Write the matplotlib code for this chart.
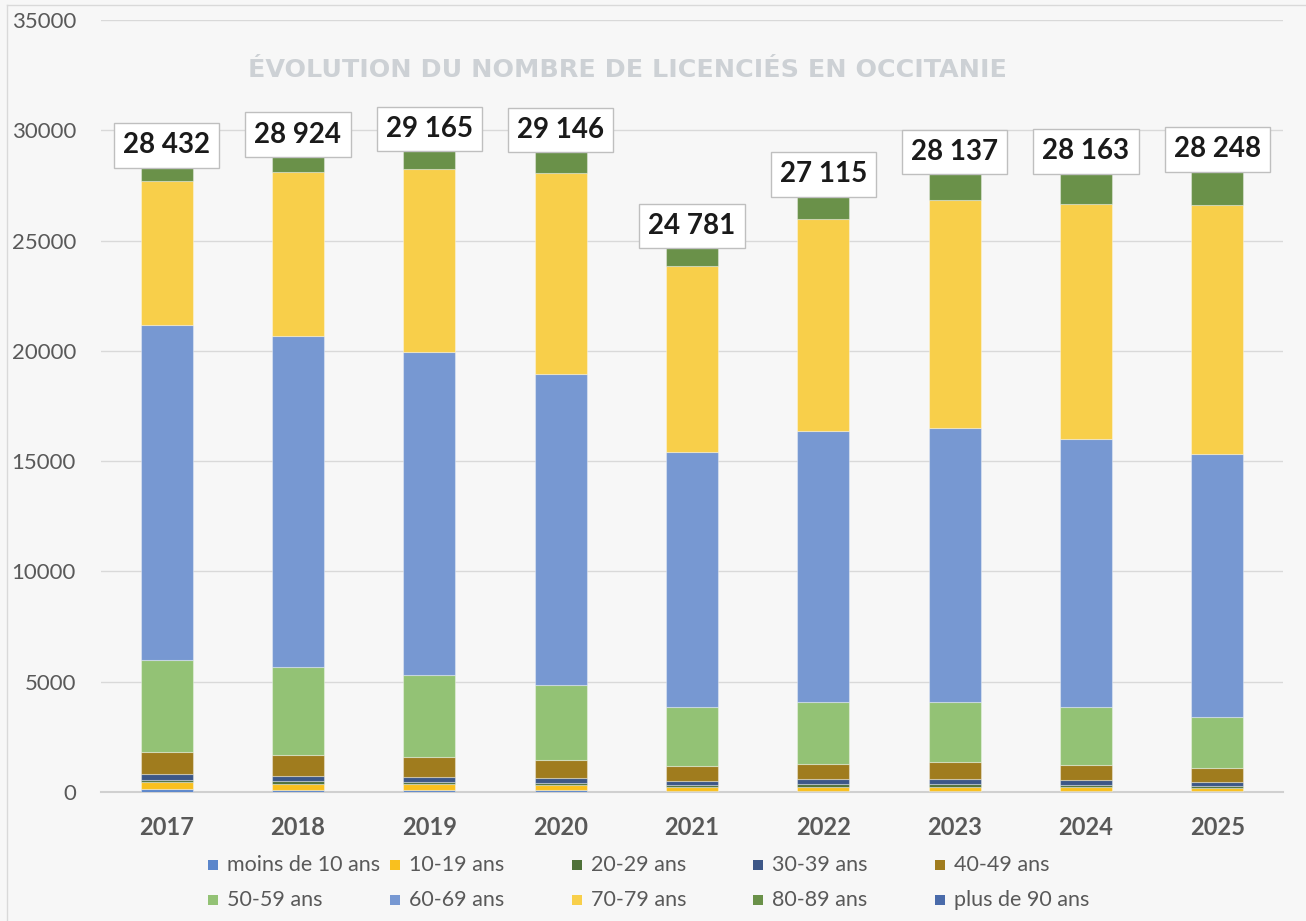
import matplotlib
matplotlib.use("Agg")
import matplotlib.pyplot as plt
from matplotlib.patches import Rectangle
from matplotlib.lines import Line2D
import numpy as np

years = ["2017", "2018", "2019", "2020", "2021", "2022", "2023", "2024", "2025"]
age_groups = ["moins de 10 ans", "10-19 ans", "20-29 ans", "30-39 ans", "40-49 ans",
              "50-59 ans", "60-69 ans", "70-79 ans", "80-89 ans", "plus de 90 ans"]

moins_10 = [136, 91, 91, 91, 45, 45, 59, 59, 45]
a10_19 = [317, 272, 272, 226, 182, 182, 168, 168, 136]
a20_29 = [91, 135, 77, 77, 90, 136, 149, 77, 91]
a30_39 = [272, 227, 240, 240, 181, 226, 213, 240, 181]
a40_49 = [996, 951, 920, 830, 694, 693, 756, 666, 621]
a50_59 = [4169, 3987, 3701, 3384, 2659, 2796, 2733, 2641, 2324]
a60_69 = [15179, 15012, 14649, 14123, 11586, 12293, 12429, 12174, 11948]
a70_79 = [6538, 7431, 8280, 9092, 8427, 9592, 10343, 10655, 11252]
a80_89 = [719, 798, 915, 1063, 902, 1137, 1272, 1468, 1635]
plus_90 = [15, 20, 20, 20, 15, 15, 15, 15, 15]

series = [moins_10, a10_19, a20_29, a30_39, a40_49, a50_59, a60_69, a70_79, a80_89, plus_90]
colors = ["#5B86CB", "#F9C01E", "#4F7139", "#3D5787", "#A07C1E",
          "#93C275", "#7798D2", "#F8CF4A", "#6A9149", "#4A6BAA"]

BG = "#F7F7F7"
GRAY = "#595959"

plt.rcParams['font.family'] = ['Lato', 'DejaVu Sans']

fig = plt.figure(figsize=(13.06, 9.21), dpi=100, facecolor=BG)
ax = fig.add_axes([101/1306, 1-792/921, (1283-101)/1306, (792-20)/921])
ax.set_facecolor(BG)

x = np.arange(len(years))
bottom = np.zeros(len(years))
for vals, col in zip(series, colors):
    ax.bar(x, vals, bottom=bottom, width=0.396, color=col,
           edgecolor=(1, 1, 1, 0.35), linewidth=0.8, zorder=3)
    bottom += np.array(vals)

totals = bottom
for xi, t in zip(x, totals):
    label = f"{int(t):,}".replace(",", " ")
    ax.annotate(label, (xi, t), xytext=(0, 14), textcoords="offset points",
                ha="center", va="center", fontsize=20, fontweight="bold",
                color="#1A1A1A", zorder=5,
                bbox=dict(boxstyle="square,pad=0.33", fc="white", ec="#BFBFBF", lw=1))

ax.set_xlim(-0.5, 8.5)
ax.set_ylim(0, 35000)
ax.set_yticks(np.arange(0, 35001, 5000))
ax.set_xticks(x)
ax.set_xticklabels(years, fontsize=17, fontweight="bold", color=GRAY)
ax.tick_params(axis="y", length=0, pad=18, labelsize=16, labelcolor=GRAY)
ax.tick_params(axis="x", length=0, pad=17)
ax.grid(axis="y", color="#D9D9D9", lw=1, zorder=0)
for s in ["left", "right", "top"]:
    ax.spines[s].set_visible(False)
ax.spines["bottom"].set_color("#D0D0D0")
ax.spines["bottom"].set_linewidth(1.5)

fig.text(627/1306, 1-70/921, "ÉVOLUTION DU NOMBRE DE LICENCIÉS EN OCCITANIE",
         ha="center", va="center", fontsize=18.3, fontweight="bold",
         color="#CDD1D5", family=["DejaVu Sans"])

# frame lines
fig.add_artist(Line2D([7/1306, 7/1306], [0, 1-5/921], color="#D9D9D9", lw=1))
fig.add_artist(Line2D([7/1306, 1], [1-5/921, 1-5/921], color="#D9D9D9", lw=1))

# legend (row-major, evenly spaced)
col_x = [208, 390, 572, 753, 935]
row_y = [865, 900]
for i, (name, col) in enumerate(zip(age_groups, colors)):
    r, c = divmod(i, 5)
    px, py = col_x[c], row_y[r]
    fig.add_artist(Rectangle((px/1306, 1-(py+5)/921), 10/1306, 10/921,
                             facecolor=col, edgecolor="none", transform=fig.transFigure))
    fig.text((px+19)/1306, 1-py/921, name, ha="left", va="center",
             fontsize=15.5, color=GRAY)

fig.savefig("out.png", dpi=100, facecolor=BG)
